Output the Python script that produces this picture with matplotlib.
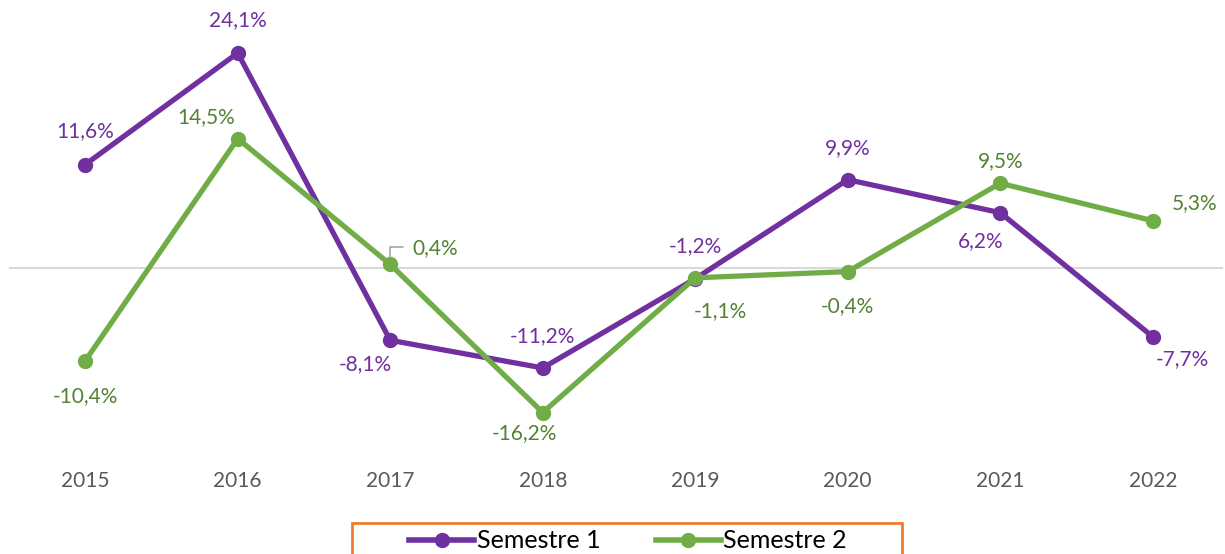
import matplotlib
matplotlib.use("Agg")
import matplotlib.pyplot as plt
from matplotlib.patches import Rectangle
from matplotlib.lines import Line2D

plt.rcParams['font.family'] = ['Lato', 'DejaVu Sans']

years = ["2015", "2016", "2017", "2018", "2019", "2020", "2021", "2022"]
semestre1 = [11.6, 24.1, -8.1, -11.2, -1.2, 9.9, 6.2, -7.7]
semestre2 = [-10.4, 14.5, 0.4, -16.2, -1.1, -0.4, 9.5, 5.3]

# label offsets in pixels (dx, dy)
off1 = [(0, 33), (0, 33), (-25, -24), (0, 32), (0, 33), (0, 32), (-20, -28), (30, -22)]
off2 = [(0, -35), (-32, 22), (45, 16), (-18, -21), (25, -33), (0, -35), (0, 22), (42, 18)]

PURPLE = "#7030A0"
GREEN = "#70AD47"
GREEN_TXT = "#548235"

W, H = 1225, 554
fig = plt.figure(figsize=(W / 100, H / 100), dpi=100)
ax_left, ax_right, ax_top, ax_bot = 9, 1229, 10, 460
ax = fig.add_axes([ax_left / W, 1 - ax_bot / H, (ax_right - ax_left) / W, (ax_bot - ax_top) / H])
ax.set_xlim(-0.5, 7.5)
ax.set_ylim(-21.52, 28.92)
ax.axis('on')
for s in ax.spines.values():
    s.set_visible(False)
ax.set_yticks([])
x = list(range(len(years)))
ax.set_xticks(x)
ax.set_xticklabels(years, fontsize=15, color="#595959")
ax.tick_params(axis='x', length=0, pad=8)

ax.axhline(0, xmin=0, xmax=(1222 - ax_left) / (ax_right - ax_left), color="#D9D9D9", lw=1.5, zorder=1)

ax.plot(x, semestre1, color=PURPLE, lw=3.8, marker='o', ms=10, zorder=3, solid_capstyle='round')
ax.plot(x, semestre2, color=GREEN, lw=3.8, marker='o', ms=10, zorder=4, solid_capstyle='round')

def fmt(v):
    return f"{v:.1f}".replace(".", ",") + "%"

for i, v in enumerate(semestre1):
    ax.annotate(fmt(v), (x[i], v), xytext=off1[i], textcoords='offset pixels',
                ha='center', va='center', fontsize=15, color=PURPLE, zorder=5)
for i, v in enumerate(semestre2):
    ax.annotate(fmt(v), (x[i], v), xytext=off2[i], textcoords='offset pixels',
                ha='center', va='center', fontsize=15, color=GREEN_TXT, zorder=5)

# leader line for 0,4%
i = 2
ax.annotate("", (x[i], semestre2[i]), xytext=(13, 17), textcoords='offset pixels',
            arrowprops=dict(arrowstyle='-', color="#A6A6A6", lw=1.2,
                            connectionstyle="angle,angleA=0,angleB=90,rad=0",
                            shrinkA=0, shrinkB=0), zorder=2)

# legend
rect = Rectangle((352 / W, 1 - 570 / H), 550 / W, 47 / H, transform=fig.transFigure,
                 fill=False, edgecolor="#ED7D31", lw=2)
fig.add_artist(rect)
handles = [Line2D([], [], color=PURPLE, lw=4, marker='o', ms=10),
           Line2D([], [], color=GREEN, lw=4, marker='o', ms=10)]
fig.legend(handles, ["Semestre 1", "Semestre 2"], loc='center', bbox_to_anchor=(628 / W, 1 - 541 / H),
           ncol=2, frameon=False, fontsize=18, handlelength=2.6, handletextpad=0.1, columnspacing=2.2)

fig.savefig("out.png", dpi=100)
